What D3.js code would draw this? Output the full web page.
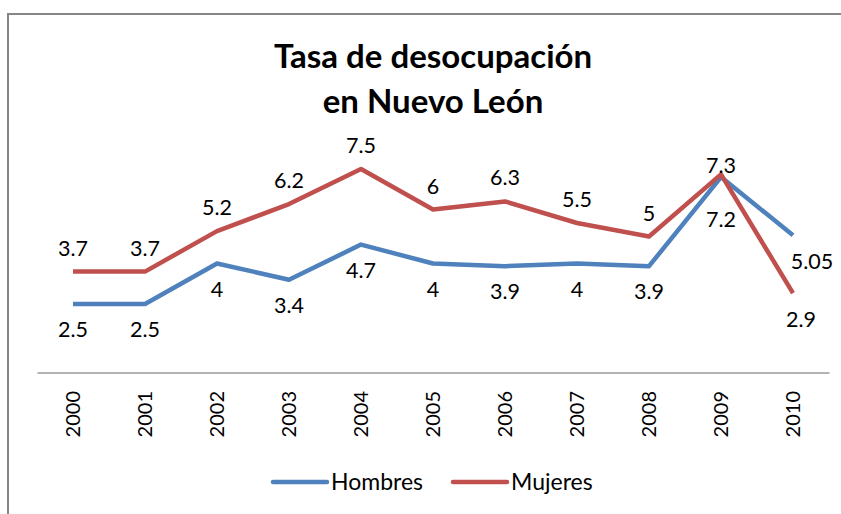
<!DOCTYPE html>
<html>
<head>
<meta charset="utf-8">
<script src="https://cdn.jsdelivr.net/npm/d3@7"></script>
<style>
  html, body { margin: 0; padding: 0; background: #fff; }
  svg { display: block; }
</style>
</head>
<body>
<div id="chart"></div>
<script>
// chart values
var years = ["2000", "2001", "2002", "2003", "2004", "2005", "2006", "2007", "2008", "2009", "2010"];
var hombres = [2.5, 2.5, 4, 3.4, 4.7, 4, 3.9, 4, 3.9, 7.2, 5.05];
var mujeres = [3.7, 3.7, 5.2, 6.2, 7.5, 6, 6.3, 5.5, 5, 7.3, 2.9];
var seriesNames = ["Hombres", "Mujeres"];
var titleLines = ["Tasa de desocupación", "en Nuevo León"];

var width = 841,
    height = 514;

var font = "Lato, 'Open Sans', sans-serif",
    blue = "#4F81BD",
    red = "#C0504D",
    lineWidth = 4.5;

var plotLeft = 37, plotRight = 829,
    plotTop = 155.5, plotBottom = 371.5;

var svg = d3.select("#chart").append("svg")
    .attr("width", width)
    .attr("height", height);

// outer border (cut off at right and bottom in the picture)
svg.append("rect")
    .attr("x", 8)
    .attr("y", 14)
    .attr("width", 900)
    .attr("height", 600)
    .attr("fill", "none")
    .attr("stroke", "#868686")
    .attr("stroke-width", 2);

// title
svg.append("text")
    .attr("x", 433)
    .attr("font-family", font)
    .attr("font-weight", "bold")
    .attr("font-size", 33)
    .attr("text-anchor", "middle")
    .attr("fill", "#000")
    .selectAll("tspan")
    .data(titleLines)
    .enter().append("tspan")
    .attr("x", 433)
    .attr("y", function(d, i) { return 68 + i * 45; })
    .text(function(d) { return d; });

var x = d3.scaleBand()
    .domain(years)
    .range([plotLeft, plotRight]);

var y = d3.scaleLinear()
    .domain([0, 8])
    .range([plotBottom, plotTop]);

function cx(year) { return x(year) + x.bandwidth() / 2; }

// category axis
var xAxis = svg.append("g")
    .attr("transform", "translate(0," + (plotBottom + 1) + ")")
    .call(d3.axisBottom(x).tickSize(0).tickFormat(""));
xAxis.select(".domain").attr("stroke", "#999").attr("stroke-width", 1.5);

svg.append("g").selectAll("text")
    .data(years)
    .enter().append("text")
    .attr("transform", function(d) { return "translate(" + cx(d) + ",391) rotate(-90)"; })
    .attr("text-anchor", "end")
    .attr("dy", "0.36em")
    .attr("font-family", font)
    .attr("font-size", 20)
    .attr("fill", "#000")
    .text(function(d) { return d; });

var series = [
    { name: seriesNames[0], values: hombres, color: blue, below: true },
    { name: seriesNames[1], values: mujeres, color: red, below: false }
];

var line = d3.line()
    .x(function(d, i) { return cx(years[i]); })
    .y(function(d) { return y(d); });

svg.append("g").selectAll("path")
    .data(series)
    .enter().append("path")
    .attr("d", function(s) { return line(s.values); })
    .attr("fill", "none")
    .attr("stroke", function(s) { return s.color; })
    .attr("stroke-width", lineWidth)
    .attr("stroke-linejoin", "round");

// data labels: hombres under the line, mujeres over it
var labels = [];
series.forEach(function(s) {
    s.values.forEach(function(v, i) {
        var dx = 0, dy = s.below ? 33 : -16;
        var yr = years[i];
        if (yr === "2009") dy = s.below ? 50 : -1;
        if (yr === "2010") { dx = s.below ? 19 : 8; dy = 34; }
        labels.push({ x: cx(yr) + dx, y: y(v) + dy, text: String(v) });
    });
});

svg.append("g").selectAll("text")
    .data(labels)
    .enter().append("text")
    .attr("x", function(d) { return d.x; })
    .attr("y", function(d) { return d.y; })
    .attr("text-anchor", "middle")
    .attr("font-family", font)
    .attr("font-size", 21.5)
    .attr("fill", "#000")
    .text(function(d) { return d.text; });

// legend
var legend = svg.append("g").selectAll("g")
    .data(series)
    .enter().append("g")
    .attr("transform", function(d, i) { return "translate(" + (273 + i * 180) + ",482)"; });

legend.append("line")
    .attr("x1", 0)
    .attr("x2", 54)
    .attr("stroke", function(d) { return d.color; })
    .attr("stroke-width", lineWidth)
    .attr("stroke-linecap", "round");

legend.append("text")
    .attr("x", 58)
    .attr("dy", "0.36em")
    .attr("font-family", font)
    .attr("font-size", 23)
    .attr("fill", "#000")
    .text(function(d) { return d.name; });
</script>
</body>
</html>
